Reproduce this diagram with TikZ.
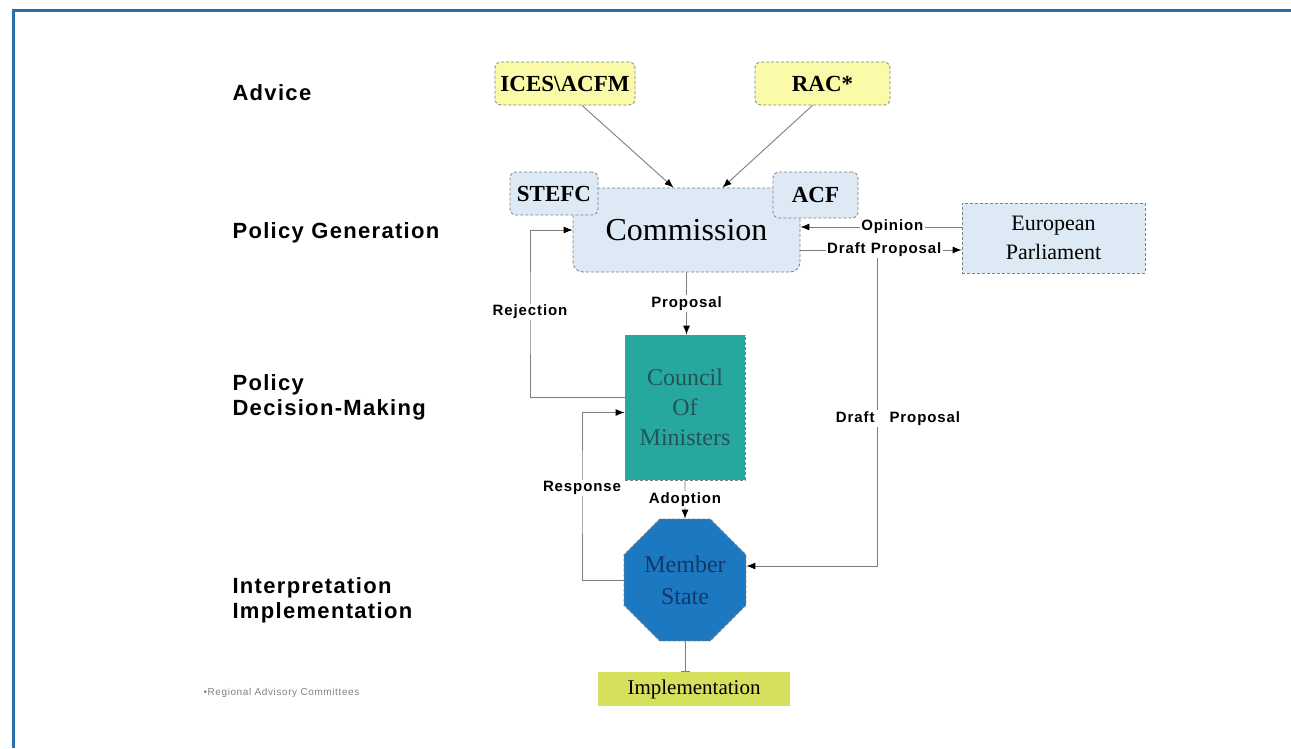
\documentclass[tikz,border=0pt]{standalone}
\usepackage{fontspec}
\setmainfont{Liberation Serif}
\newfontfamily\lblfont[LetterSpace=6]{Liberation Sans}
\usetikzlibrary{shapes.geometric}
\usetikzlibrary{arrows.meta}
\definecolor{frameblue}{RGB}{40,110,170}
\definecolor{paleyellow}{RGB}{250,250,168}
\definecolor{paleblue}{RGB}{221,233,245}
\definecolor{councilfill}{RGB}{38,168,160}
\definecolor{counciltext}{RGB}{35,85,85}
\definecolor{memberfill}{RGB}{28,120,192}
\definecolor{membertext}{RGB}{20,55,105}
\definecolor{limefill}{RGB}{214,224,92}
\definecolor{wire}{RGB}{125,125,125}

\tikzset{
  box/.style={draw=gray, densely dashed, line width=0.8pt, inner sep=2pt, align=center},
  advbox/.style={box, fill=paleyellow, rounded corners=6pt, minimum height=43pt,
    font=\bfseries\fontsize{23}{26}\selectfont},
  tagbox/.style={box, fill=paleblue, rounded corners=6pt,
    font=\bfseries\fontsize{23}{26}\selectfont},
  commbox/.style={box, fill=paleblue, rounded corners=10pt, minimum width=227pt,
    minimum height=84pt, font=\fontsize{32}{36}\selectfont},
  epbox/.style={box, fill=paleblue, minimum width=183pt, minimum height=70pt,
    font=\fontsize{22}{29}\selectfont},
  councilbox/.style={box, fill=councilfill, text=counciltext, minimum width=120pt,
    minimum height=145pt, font=\fontsize{24}{30}\selectfont},
  msbox/.style={box, regular polygon, regular polygon sides=8, minimum size=132pt,
    fill=memberfill, text=membertext, font=\fontsize{24}{32}\selectfont},
  implbox/.style={fill=limefill, minimum width=192pt, minimum height=34pt,
    font=\fontsize{21}{24}\selectfont},
  stage/.style={anchor=west, align=left, font=\lblfont\bfseries\fontsize{22}{25}\selectfont},
  lbl/.style={fill=white, inner sep=1.5pt, font=\lblfont\bfseries\fontsize{15}{17}\selectfont},
  wire/.style={draw=wire, line width=0.9pt},
  arr/.style={wire, -{Latex[length=9pt,width=7pt,color=black]}},
  tee/.style={wire, -{Bar[width=9pt]}}
}

\begin{document}
\begin{tikzpicture}[x=1pt,y=-1pt]
\useasboundingbox (0,0) rectangle (1291,748);
\draw[frameblue, line width=3pt] (13,748)--(13,10)--(1291,10);

% stages
\node[stage] (advice) at (229,93) {Advice};
\node[stage] (gen) at (229,233) {Policy Generation};
\node[stage] (dec) at (229,397) {Policy\\Decision-Making};
\node[stage] (interp) at (229,600) {Interpretation\\Implementation};
\node[anchor=west, text=gray, font=\lblfont\fontsize{10}{12}\selectfont] (note) at (200,693) {•Regional Advisory Committees};

% boxes
\node[advbox, minimum width=140pt] (ices) at (565,83.5) {ICES\textbackslash ACFM};
\node[advbox, minimum width=135pt] (rac) at (822.5,83.5) {RAC*};
\node[commbox] (comm) at (686.5,230) {Commission};
\node[tagbox, minimum width=88pt, minimum height=43pt] (stefc) at (554,193.5) {STEFC};
\node[tagbox, minimum width=85pt, minimum height=46pt] (acf) at (815.5,195) {ACF};
\node[epbox] (ep) at (1053.5,238) {European\\Parliament};
\node[councilbox] (council) at (685,407.5) {Council\\Of\\Ministers};
\node[msbox] (ms) at (685,580) {Member\\State};
\node[implbox] (impl) at (694,689) {Implementation};

% connectors
\draw[arr] ([xshift=17pt]ices.south) -- ([xshift=-13pt]comm.north);
\draw[arr] ([xshift=-10pt]rac.south) -- ([xshift=36pt]comm.north);
\draw[arr] ([yshift=11pt]ep.west) -- ([yshift=3pt]comm.east) node[lbl, pos=0.43]{Opinion};
\draw[arr] ([yshift=-20pt]comm.east) -- ([yshift=-12pt]ep.west) node[lbl, pos=0.52]{Draft Proposal};
\coordinate (dp) at (877,258);
\draw[arr] (dp) |- ([yshift=14pt]ms.east) node[lbl, pos=0.26, xshift=21pt]{Draft\quad Proposal};
\draw[arr] (comm.south) -- (comm.south |- council.north) node[lbl, midway]{Proposal};
\coordinate (rj) at (530,312);
\draw[arr] ([yshift=10pt]council.west) -| (rj) node[lbl]{Rejection} |- (comm.west);
\coordinate (rs) at (582,488);
\draw[arr] (ms.west) -| (rs) node[lbl]{Response} |- ([yshift=-5pt]council.west);
\draw[arr] (council.south) -- (ms.north) node[lbl, midway]{Adoption};
\draw[tee] (ms.south) -- (ms.south |- impl.north);
\end{tikzpicture}
\end{document}
